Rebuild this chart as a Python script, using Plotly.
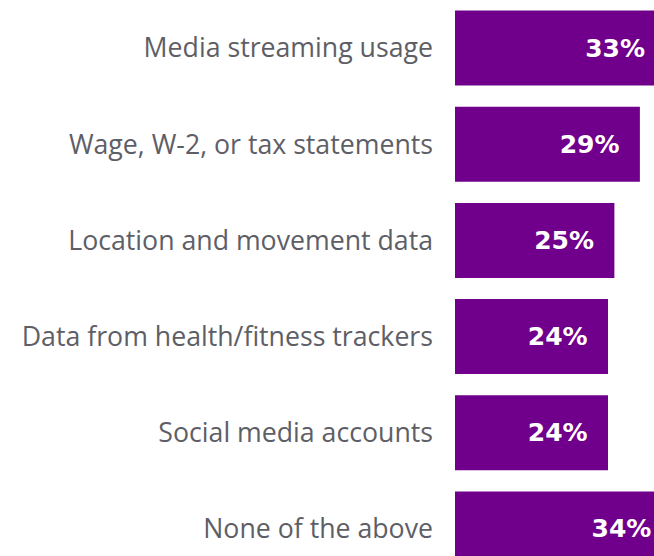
import plotly.graph_objects as go

categories = [
    "Media streaming usage",
    "Wage, W-2, or tax statements",
    "Location and movement data",
    "Data from health/fitness trackers",
    "Social media accounts",
    "None of the above",
]
values = [33, 29, 25, 24, 24, 34]
value_labels = [f"{v}%" for v in values]

PURPLE = "#70008C"

fig = go.Figure()
fig.add_trace(go.Bar(
    y=categories,
    x=values,
    orientation="h",
    marker=dict(color=PURPLE, line=dict(width=0)),
    # espaces insécables pour décaler le texte du bout de la barre
    text=[t + "\u00a0\u00a0" for t in value_labels],
    textposition="inside",
    insidetextanchor="end",
    textfont=dict(family="DejaVu Sans", size=25, color="white", weight="bold"),
    hoverinfo="skip",
))

# le graphique déborde de la fenêtre à droite et en bas (comme la référence)
fig.update_layout(
    width=690,
    height=577,
    margin=dict(l=455, r=0, t=0, b=0),
    plot_bgcolor="white",
    paper_bgcolor="white",
    showlegend=False,
    bargap=0.22,
    xaxis=dict(range=[0, 36.86], visible=False, fixedrange=True),
    yaxis=dict(
        categoryorder="array",
        categoryarray=categories,
        autorange="reversed",
        showgrid=False,
        zeroline=False,
        showline=False,
        ticks="",
        ticklabelstandoff=21,
        tickfont=dict(family="Open Sans", size=26.7, color="#5E5E66"),
        fixedrange=True,
    ),
)

fig.write_html(
    "out.html",
    config={"displayModeBar": False},
    post_script="document.body.style.margin='0';document.body.style.overflow='hidden';",
)
